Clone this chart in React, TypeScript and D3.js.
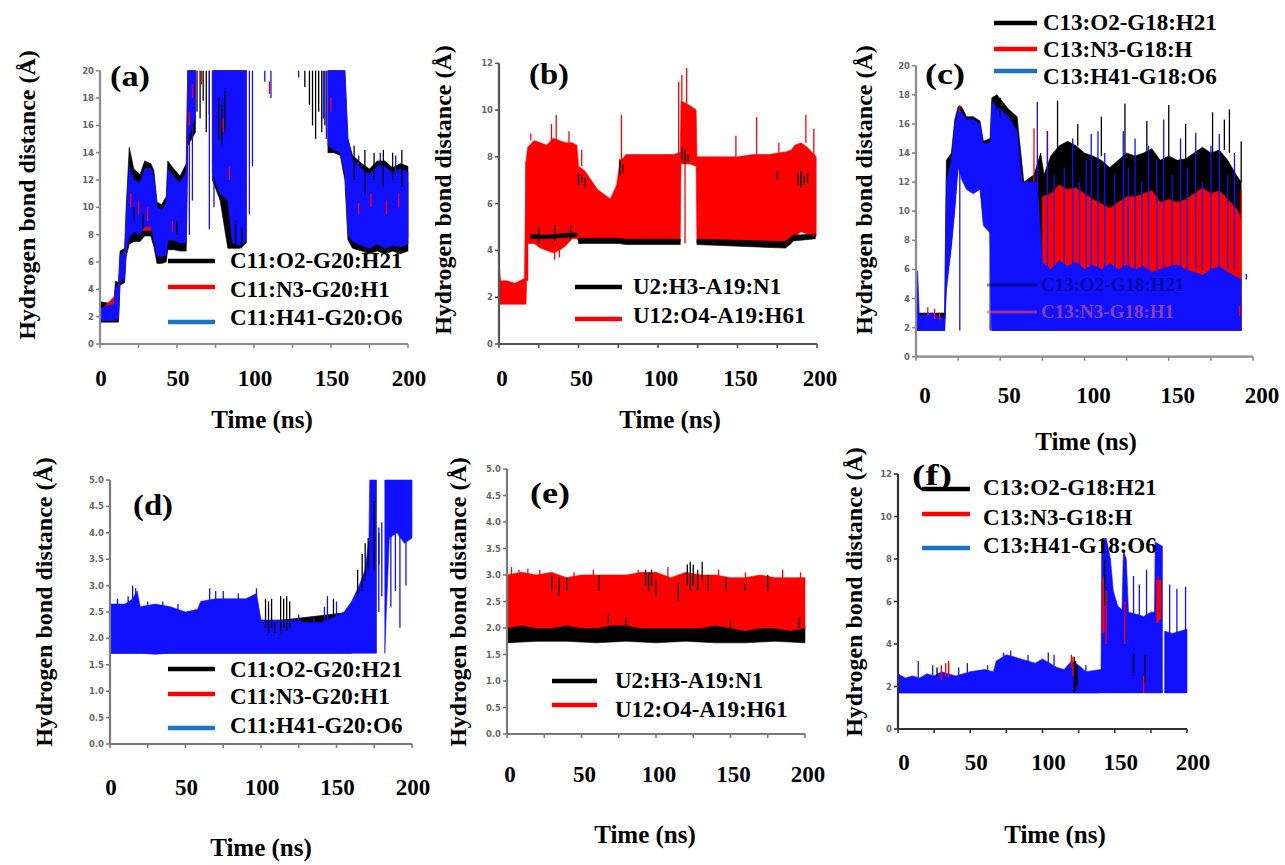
import React from "react";
import * as d3 from "d3";

type Row = [number, number | null, number | null];
type Mark = [number, number, number];

// ---------- tick labels ----------
const X_TICK_LABELS = [0, 50, 100, 150, 200];

// ---------- series names ----------
const C11_NAMES = ["C11:O2-G20:H21", "C11:N3-G20:H1", "C11:H41-G20:O6"];
const U_NAMES = ["U2:H3-A19:N1", "U12:O4-A19:H61"];
const C13_NAMES = ["C13:O2-G18:H21", "C13:N3-G18:H", "C13:H41-G18:O6"];
const C13_GHOST = ["C13:O2-G18:H21", "C13:N3-G18:H1"];

// ---------- panel (a) ----------
const A_BLACK: Row[] = [[0,1.6,3.1],[5,1.6,3.0],[9,1.6,3.0],[10,1.6,4.6],[12,1.6,4.5],[13,4.3,6.8],[16,4.5,7.0],[17,6.4,10.0],[19,7.3,14.4],[22,7.5,12.8],[26,7.5,12.4],[29,7.9,13.4],[33,7.9,13.2],[35,7.1,12.7],[37,5.9,10.4],[40,5.9,10.2],[43,6.0,10.8],[44,6.9,13.4],[48,6.9,12.8],[52,6.8,12.3],[56,6.8,13.2],[57,14.5,20],[62,15.5,20],[62.5,null,null],[73,12.0,20],[78,10.5,20],[83,7.0,20],[86,7.0,20],[91,7.0,20],[95,7.4,20],[96,null,null],[148,14.0,20],[152,14.0,20],[156,13.8,20],[159,12.0,20],[161,7.6,15.0],[164,7.0,13.8],[170,6.8,13.2],[175,6.6,12.8],[180,6.8,13.4],[185,6.6,13.4],[190,6.8,12.9],[195,6.6,13.2],[200,6.8,13.0]];
const A_RED: Row[] = [[0,1.9,2.4],[12,1.9,3.8],[13,5.0,6.1],[16,5.2,6.3],[17,7.0,9.0],[19,8.3,11.5],[35,8.3,11.5],[37,6.8,9.5],[43,6.9,9.8],[44,8.0,11.8],[52,7.9,11.4],[56,7.8,11.5],[57,15.8,20],[62,17.2,20],[62.5,null,null],[73,13.2,20],[78,11.4,20],[83,10.8,20],[86,7.8,20],[95,8.2,20],[96,null,null],[148,15.2,20],[152,14.5,20],[156,14.3,20],[159,13.2,20],[161,8.4,13.5],[164,7.9,12.8],[175,7.6,12.0],[190,7.6,12.0],[200,7.7,11.8]];
const A_BLUE: Row[] = [[0,1.7,2.6],[5,1.7,2.8],[9,1.7,2.9],[10,1.8,4.2],[12,1.8,4.2],[13,4.6,6.5],[16,4.8,6.7],[17,6.8,9.5],[19,7.8,13.0],[22,8.2,12.0],[26,8.0,11.8],[29,8.6,12.8],[33,8.6,12.9],[35,7.6,12.2],[37,6.4,10.0],[40,6.4,9.8],[43,6.5,10.3],[44,7.6,12.8],[48,7.6,12.2],[52,7.4,11.8],[56,7.4,12.6],[57,15.0,20],[62,16.6,20],[62.5,null,null],[73,12.5,20],[78,11.0,20],[83,10.5,20],[86,7.4,20],[91,7.2,20],[95,7.6,20],[96,null,null],[148,14.5,20],[152,14.2,20],[156,14.0,20],[159,12.5,20],[161,8.0,15.0],[164,7.5,13.5],[170,7.2,12.8],[175,7.0,12.4],[180,7.3,13.0],[185,7.0,13.0],[190,7.2,12.5],[195,7.1,12.8],[200,7.3,12.6]];
const A_BLACK_MARKS: Mark[] = [[63,17,20],[65,16.5,20],[67,17.8,20],[69,15.5,20],[71,16.8,20],[77,15,18],[79,14.5,17.5],[81,15.5,18.5],[88,7,9],[92,7,8.5],[133,18.8,20],[136,17.5,20],[138,16,20],[140,15,20],[142,17,20],[144,15.5,20],[146,16,20],[165,12,14.5],[172,11,14.2],[178,12,14],[184,11.5,14.2],[190,12,14],[196,11.5,14.2],[22,9,10],[28,8.5,9.5],[50,8,9]];
const A_RED_MARKS: Mark[] = [[20,10,11],[25,9.5,10.5],[31,9,10],[47,8.2,9],[58,16,17],[60,18,19],[66,19,20],[80,15.5,16.5],[84,12,13],[110,18.3,19.2],[150,17,18],[168,9.5,10.3],[176,10,11],[186,9.5,10.5],[194,10,11]];
const A_BLUE_MARKS: Mark[] = [[58,8.0,15],[60,10.5,16],[71,8.4,20],[74,10,12.5],[97,9.5,20],[99,13,20],[107,19.2,20],[111,18,20],[129,19.5,20],[145,16.5,20],[147,15,20],[168,12,13.8],[182,12,14],[192,12,13.8]];

// ---------- panel (b) ----------
const B_BLACK: Row[] = [[20,4.5,4.68],[30,4.5,4.65],[40,4.55,4.72],[49,4.58,4.75],[49.5,null,null],[50,4.3,4.52],[75,4.3,4.52],[80,4.25,4.48],[114,4.25,4.48],[114.2,null,null],[124.5,4.25,4.48],[180,4.1,4.38],[185,4.4,4.65],[199,4.5,4.7]];
const B_RED: Row[] = [[0,1.7,3.5],[1,1.7,2.7],[5,1.7,2.7],[10,1.7,2.6],[16,1.7,2.8],[17,1.7,7.8],[18,4.3,8.4],[22,4.3,8.7],[26,4.1,8.6],[30,4.0,8.5],[34,3.9,8.8],[38,4.0,8.7],[42,4.2,8.6],[46,4.5,8.6],[49,4.5,8.5],[50,4.4,7.6],[54,4.5,7.4],[58,4.5,7.0],[62,4.4,6.6],[66,4.4,6.4],[70,4.4,6.2],[74,4.4,6.8],[76,4.5,7.8],[80,4.4,8.1],[90,4.4,8.1],[100,4.4,8.1],[110,4.4,8.1],[114,4.4,8.2],[114.5,7.7,10.4],[120,7.7,10.2],[124,7.6,10.0],[124.5,4.3,8.0],[130,4.3,8.0],[140,4.3,8.0],[150,4.3,8.0],[160,4.3,8.1],[170,4.3,8.1],[178,4.3,8.2],[180,4.1,8.2],[184,4.3,8.3],[186,4.6,8.5],[190,4.8,8.6],[194,4.7,8.4],[199.5,4.6,8.0]];
const B_BLACK_MARKS: Mark[] = [[0,1.7,3.5],[50,6.8,7.3],[52,6.9,7.2],[54,6.7,7.1],[76,7.2,7.9],[78,7.3,7.7],[115,7.8,8.4],[117,7.7,8.3],[119,7.8,8.1],[175,7.0,7.4],[188,6.8,7.3],[190,6.7,7.4],[192,6.8,7.2],[194,6.9,7.3],[25,4.3,5.0],[35,4.4,5.1],[45,4.5,5.1]];
const B_RED_MARKS: Mark[] = [[17,2.7,7.8],[18,2.7,8.2],[20,8.7,9.0],[33,8.6,9.4],[36,8.6,9.8],[44,8.6,9.1],[35,3.6,4.0],[38,3.7,4.0],[52,7.6,8.3],[77,7.8,9.8],[113,8.1,11.2],[115,10.4,11.5],[118,10.2,11.8],[117,4.3,7.7],[149,8.0,8.9],[162,8.1,9.7],[176,8.2,8.6],[193,8.6,9.8],[198,4.6,9.2]];

// ---------- panel (c) ----------
const C_BLACK: Row[] = [[0,1.8,3.0],[17,1.8,3.0],[18,5,13.5],[21,7.8,14],[23,10.3,16.3],[25,13.3,17.2],[27,12.5,17.2],[30,11.8,16.5],[34,11.5,16.5],[38,11.8,16.2],[40,9.3,14.8],[44,8.8,15],[45,1.8,17.8],[48,1.8,18],[55,1.8,17],[60,1.8,16.5],[64,1.8,12],[70,1.8,12.5],[74,1.8,14],[76,1.8,12.5],[80,1.8,13.8],[85,1.8,14.5],[90,1.8,14.8],[95,1.8,14.5],[100,1.8,14],[105,1.8,13.8],[110,1.8,13.5],[115,1.8,13.0],[120,1.8,13.5],[125,1.8,14.0],[130,1.8,13.8],[135,1.8,14.0],[140,1.8,14.3],[145,1.8,13.5],[150,1.8,13.8],[155,1.8,13.5],[160,1.8,13.6],[165,1.8,14.0],[170,1.8,14.4],[175,1.8,14.0],[180,1.8,14.2],[185,1.8,13.5],[190,1.8,12.5],[193,1.8,12]];
const C_RED: Row[] = [[75,1.8,11.0],[80,1.8,11.2],[85,1.8,11.8],[90,1.8,11.5],[95,1.8,11.6],[100,1.8,11.2],[105,1.8,10.8],[110,1.8,10.5],[115,1.8,10.2],[120,1.8,10.6],[125,1.8,11.0],[130,1.8,11.0],[135,1.8,11.2],[140,1.8,11.4],[145,1.8,10.6],[150,1.8,10.8],[155,1.8,10.6],[160,1.8,10.8],[165,1.8,11.2],[170,1.8,11.6],[175,1.8,11.2],[180,1.8,11.4],[185,1.8,10.8],[190,1.8,10.2],[193,1.8,9.5]];
const C_BLUE: Row[] = [[0,1.8,2.7],[1,1.8,5.9],[2,1.8,2.8],[10,1.8,3.0],[17,1.8,2.6],[18,4.5,12],[21,7.5,13.5],[23,10,16],[25,13,17],[27,12.2,16.8],[30,11.5,16.3],[34,11.2,16.3],[38,11.5,16],[40,9,14.6],[44,8.5,14.7],[45,1.8,17.5],[50,1.8,17],[55,1.8,16.5],[60,1.8,15.5],[63,1.8,12],[68,1.8,12],[72,1.8,12],[75,1.8,6.5],[80,1.8,6.0],[85,1.8,6.6],[90,1.8,6.2],[95,1.8,6.5],[100,1.8,6.0],[105,1.8,6.3],[110,1.8,6.0],[115,1.8,6.4],[120,1.8,6.0],[125,1.8,6.3],[130,1.8,6.0],[135,1.8,6.2],[140,1.8,5.8],[145,1.8,6.0],[150,1.8,6.2],[155,1.8,6.3],[160,1.8,6.0],[165,1.8,5.8],[170,1.8,5.6],[175,1.8,6.0],[180,1.8,6.2],[185,1.8,5.8],[190,1.8,5.5],[193,1.8,5.3]];
const C_BLACK_MARKS: Mark[] = [[48,17,18],[50,16.5,17.8],[84,13.8,17.6],[96,14.5,16],[110,13.8,16.5],[124,13.5,17.4],[137,14,16.2],[150,13.8,17.3],[160,13.6,16],[176,14,16.8],[183,14.2,16.3],[186,14,17],[193,12,14.8]];
const C_RED_MARKS: Mark[] = [[7,2.8,3.4],[11,2.6,3.3],[14,2.5,3.0],[26,16.8,17.3],[70,12,15.7],[78,11,15.5],[192,2.8,3.5],[193,9.5,11.5]];
const C_BLUE_MARKS: Mark[] = [[26,1.8,15.5],[44,1.8,12],[72,1.8,17.5],[78,6,15.5],[82,6,12.5],[88,6,13],[93,6,15],[97,6,12],[101,6,13.5],[104,6,15.3],[108,6,15.5],[112,6,14],[118,6,12.5],[123,6,15.5],[126,6,13],[130,6,15],[134,6,12],[138,6,14.5],[143,6,13.5],[147,6,16.3],[152,6,12.5],[157,6,15],[161,6,13],[166,6,15.4],[170,6,12],[175,6,14.5],[180,6,15.3],[185,6,12.5],[189,6,14],[196,5.3,5.7]];

// ---------- panel (d) ----------
const D_BLACK: Row[] = [[0,1.72,2.5],[100,1.72,2.3],[160,1.72,2.5]];
const D_RED: Row[] = [[0,1.75,2.2],[160,1.75,2.2]];
const D_BLUE: Row[] = [[0,1.72,2.65],[10,1.72,2.65],[15,1.72,2.75],[18,1.72,2.9],[20,1.72,2.6],[30,1.7,2.65],[40,1.72,2.6],[50,1.72,2.5],[58,1.72,2.55],[60,1.72,2.7],[70,1.72,2.75],[80,1.72,2.75],[90,1.72,2.75],[97,1.72,2.85],[100,1.72,2.35],[110,1.72,2.35],[120,1.72,2.35],[130,1.72,2.3],[140,1.72,2.3],[148,1.72,2.4],[155,1.72,2.5],[160,1.72,2.7],[165,1.72,3.0],[169,1.72,3.3],[171.5,1.72,3.9],[172,1.72,5.0],[176.5,1.72,5.0],[176.8,null,null],[182,1.72,5.0],[183,2.5,5.0],[185,3.9,5.0],[190,4.0,5.0],[195,3.8,5.0],[200,3.9,5.0]];
const D_BLACK_MARKS: Mark[] = [[103,2.2,2.75],[105,2.1,2.7],[107,2.2,2.75],[109,2.1,2.3],[113,2.1,2.8],[115,2.2,2.75],[117,2.15,2.8],[119,2.2,2.7],[148,2.4,2.75],[164,2.8,3.3],[167,2.9,3.6],[169,3.1,3.8],[171,3.3,3.9],[175,3.3,4.6],[178,3.4,4.0]];
const D_RED_MARKS: Mark[] = [];
const D_BLUE_MARKS: Mark[] = [[5,2.6,2.75],[12,2.6,2.8],[15,2.6,3.0],[17,2.6,2.95],[25,2.55,2.7],[35,2.55,2.7],[45,2.5,2.65],[66,2.6,2.95],[70,2.6,2.9],[75,2.7,2.9],[85,2.7,2.85],[97,2.7,2.95],[125,2.3,2.45],[135,2.28,2.4],[142,2.3,2.6],[144,2.3,2.8],[150,2.4,2.7],[178,2.5,4.1],[180,2.8,4.2],[186,2.6,4.0],[189,2.9,4.0],[192,2.2,4.0],[196,3.0,4.0]];

// ---------- panel (e) ----------
const E_BLACK: Row[] = [[0,1.72,2.05],[20,1.75,2.1],[40,1.75,2.05],[60,1.72,2.1],[80,1.75,2.05],[100,1.72,2.05],[120,1.75,2.05],[140,1.72,2.05],[160,1.72,2.0],[180,1.75,2.05],[200,1.72,2.05]];
const E_RED: Row[] = [[0,2.0,3.0],[10,2.05,3.05],[20,2.0,3.0],[30,2.0,3.05],[40,2.05,2.95],[50,2.0,3.0],[60,2.0,3.0],[70,2.05,3.0],[80,2.05,3.0],[90,2.0,3.05],[100,2.0,3.05],[110,2.0,2.95],[120,2.0,3.05],[130,2.0,3.0],[140,2.05,3.0],[150,2.0,2.95],[160,1.95,2.95],[170,2.0,3.0],[180,2.0,2.95],[190,1.95,2.95],[200,2.0,2.95]];
const E_BLACK_MARKS: Mark[] = [[30,2.7,3.0],[35,2.6,2.95],[40,2.7,2.95],[62,2.7,3.0],[93,2.8,3.1],[95,2.7,3.05],[97,2.8,3.1],[100,2.6,2.9],[115,2.5,2.85],[121,2.8,3.2],[123,2.7,3.25],[125,2.8,3.2],[128,2.7,3.1],[131,2.9,3.25],[135,2.7,3.0],[147,2.7,2.95],[160,2.7,2.85],[175,2.7,3.0],[68,2.1,2.25],[80,2.0,2.2],[150,2.0,2.15],[196,2.0,2.2]];
const E_RED_MARKS: Mark[] = [[3,2.9,3.15],[8,2.9,3.1],[14,2.9,3.12],[22,2.9,3.1],[45,2.9,3.05],[58,2.9,3.1],[88,2.9,3.1],[108,2.9,3.15],[142,2.9,3.1],[160,2.85,3.05],[185,2.85,3.1],[197,2.85,3.05]];

// ---------- panel (f) ----------
const F_BLACK: Row[] = [[0,1.7,2.2],[139,1.7,2.2]];
const F_RED: Row[] = [[141.5,4.5,7.0],[142.8,4.6,7.2],[143,null,null],[179,5.0,7.0],[182,5.2,7.0]];
const F_BLUE: Row[] = [[0,1.7,2.6],[5,1.7,2.4],[10,1.7,2.5],[15,1.7,2.4],[20,1.7,2.6],[25,1.7,2.5],[30,1.7,2.7],[40,1.7,2.5],[50,1.7,2.7],[60,1.7,2.8],[66,1.7,2.7],[68,1.7,3.2],[75,1.7,3.5],[85,1.7,3.3],[95,1.7,3.1],[100,1.7,3.3],[110,1.7,2.9],[115,1.7,2.8],[120,1.7,3.2],[125,1.7,3.0],[130,1.7,2.7],[140.5,1.7,2.8],[141,1.7,8.8],[144,1.7,9.0],[147,1.7,8.0],[149,1.7,6.5],[152,1.7,5.8],[155,1.7,5.6],[156,1.7,8.4],[158,1.7,8.0],[159.5,1.7,5.5],[165,1.7,5.4],[170,1.7,5.3],[175,1.7,5.5],[177.5,1.7,5.5],[178,1.7,8.8],[183,1.7,8.6],[183.5,null,null],[184.5,1.7,4.6],[190,1.7,4.5],[195,1.7,4.6],[200,1.7,4.7]];
const F_BLACK_MARKS: Mark[] = [[27,2.5,2.9],[35,2.6,3.1],[122,1.7,3.4],[123,1.8,3.2],[124,2.0,3.0],[143,5.8,8.0],[163,2.5,3.5],[171,2.2,3.5]];
const F_RED_MARKS: Mark[] = [[30,2.3,3.0],[33,2.5,3.1],[35,2.4,3.2],[120,2.9,3.5],[121,2.5,3.4],[144,4.0,6.5],[157,4.0,6.0],[170,1.7,2.5],[180,5.0,7.2]];
const F_BLUE_MARKS: Mark[] = [[14,2.4,3.2],[24,2.4,3.0],[42,2.5,2.9],[48,2.5,3.1],[62,2.6,3.0],[73,3.2,3.6],[78,3.3,3.7],[90,3.1,3.5],[104,3.0,3.6],[108,3.0,3.5],[130,2.6,3.0],[163,5.3,7.2],[167,5.3,6.8],[172,5.3,7.5],[188,4.5,6.8],[193,4.5,6.6],[199,4.6,6.7]];

// ---------- styling ----------
const SERIF = "'Liberation Serif','Times New Roman',serif";
const DATA_BLACK = "#000000";
const DATA_RED = "#ff0000";
const DATA_BLUE = "#1010ff";
const LEG_BLUE = "#1b72c4";

type Series = { name: string; color: string; legend: string; band: Row[]; marks: Mark[] };
type Panel = {
  tag: string;
  x0: number; x1: number; yb: number; yt: number; ymax: number; ystep: number; yfmt: (v: number) => string;
  axisColor: string;
  series: Series[];
  bandOrder: number[];
  ylab: [number, number];
  tag_xy: [number, number];
  legLine: [number, number]; legTextX: number; legY: number[]; legBase: number[];
  tickDx: number; tickY: number; titleXY: [number, number];
};

const mk = (name: string, color: string, legend: string, band: Row[], marks: Mark[]): Series => ({ name, color, legend, band, marks });

const PANELS: Panel[] = [
  {
    tag: "(a)", x0: 100, x1: 408, yb: 344, yt: 70.7, ymax: 20, ystep: 2, yfmt: (v) => String(v), axisColor: "#8a8a8a",
    series: [mk(C11_NAMES[0], DATA_BLACK, "#000", A_BLACK, A_BLACK_MARKS), mk(C11_NAMES[1], DATA_RED, DATA_RED, A_RED, A_RED_MARKS), mk(C11_NAMES[2], DATA_BLUE, LEG_BLUE, A_BLUE, A_BLUE_MARKS)],
    bandOrder: [0, 1, 2], ylab: [27, 195], tag_xy: [110, 86],
    legLine: [168, 215], legTextX: 230, legY: [261, 287, 322], legBase: [268, 297, 325],
    tickDx: 1, tickY: 386, titleXY: [262, 428],
  },
  {
    tag: "(b)", x0: 499, x1: 817, yb: 344, yt: 63.3, ymax: 12, ystep: 2, yfmt: (v) => String(v), axisColor: "#555",
    series: [mk(U_NAMES[0], DATA_BLACK, "#000", B_BLACK, B_BLACK_MARKS), mk(U_NAMES[1], DATA_RED, DATA_RED, B_RED, B_RED_MARKS)],
    bandOrder: [1, 0], ylab: [443, 190], tag_xy: [529, 84],
    legLine: [575, 622], legTextX: 633, legY: [287, 319], legBase: [294, 323],
    tickDx: 3, tickY: 386, titleXY: [670, 428],
  },
  {
    tag: "(c)", x0: 916, x1: 1253, yb: 356.7, yt: 65.7, ymax: 20, ystep: 2, yfmt: (v) => String(v), axisColor: "#8a8a8a",
    series: [mk(C13_NAMES[0], DATA_BLACK, "#000", C_BLACK, C_BLACK_MARKS), mk(C13_NAMES[1], DATA_RED, DATA_RED, C_RED, C_RED_MARKS), mk(C13_NAMES[2], DATA_BLUE, LEG_BLUE, C_BLUE, C_BLUE_MARKS)],
    bandOrder: [0, 1, 2], ylab: [864, 190], tag_xy: [925, 84],
    legLine: [994, 1037], legTextX: 1043, legY: [23, 49, 71], legBase: [30, 57, 84],
    tickDx: 9, tickY: 403, titleXY: [1086, 450],
  },
  {
    tag: "(d)", x0: 110, x1: 412, yb: 744, yt: 480, ymax: 5, ystep: 0.5, yfmt: (v) => v.toFixed(1), axisColor: "#7a7a7a",
    series: [mk(C11_NAMES[0], DATA_BLACK, "#000", D_BLACK, D_BLACK_MARKS), mk(C11_NAMES[1], DATA_RED, DATA_RED, D_RED, D_RED_MARKS), mk(C11_NAMES[2], DATA_BLUE, LEG_BLUE, D_BLUE, D_BLUE_MARKS)],
    bandOrder: [0, 1, 2], ylab: [44, 602], tag_xy: [133, 515],
    legLine: [168, 215], legTextX: 230, legY: [669, 694, 728], legBase: [677, 704, 733],
    tickDx: 1, tickY: 795, titleXY: [261, 856],
  },
  {
    tag: "(e)", x0: 507, x1: 805, yb: 734, yt: 469, ymax: 5, ystep: 0.5, yfmt: (v) => v.toFixed(1), axisColor: "#7a7a7a",
    series: [mk(U_NAMES[0], DATA_BLACK, "#000", E_BLACK, E_BLACK_MARKS), mk(U_NAMES[1], DATA_RED, DATA_RED, E_RED, E_RED_MARKS)],
    bandOrder: [0, 1], ylab: [458, 602], tag_xy: [530, 503],
    legLine: [552, 597], legTextX: 615, legY: [681, 705], legBase: [688, 717],
    tickDx: 3, tickY: 782, titleXY: [645, 843],
  },
  {
    tag: "(f)", x0: 898, x1: 1187, yb: 729, yt: 474, ymax: 12, ystep: 2, yfmt: (v) => String(v), axisColor: "#333",
    series: [mk(C13_NAMES[0], DATA_BLACK, "#000", F_BLACK, F_BLACK_MARKS), mk(C13_NAMES[1], DATA_RED, DATA_RED, F_RED, F_RED_MARKS), mk(C13_NAMES[2], DATA_BLUE, LEG_BLUE, F_BLUE, F_BLUE_MARKS)],
    bandOrder: [0, 2, 1], ylab: [854, 592], tag_xy: [912, 485],
    legLine: [922, 970], legTextX: 983, legY: [489, 514, 548], legBase: [495, 525, 553],
    tickDx: 6, tickY: 770, titleXY: [1055, 843],
  },
];

function PanelView({ p }: { p: Panel }) {
  const x = d3.scaleLinear().domain([0, 200]).range([p.x0, p.x1]);
  const y = d3.scaleLinear().domain([0, p.ymax]).range([p.yb, p.yt]).clamp(true);
  const area = d3
    .area<Row>()
    .defined((d) => d[1] != null && d[2] != null)
    .x((d) => x(d[0]))
    .y0((d) => y(d[1] as number))
    .y1((d) => y(d[2] as number));
  const yTicks = d3.range(0, p.ymax + 1e-9, p.ystep);
  const xMinor = d3.range(0, 200.001, 25);

  return (
    <g>
      <text
        transform={`translate(${p.ylab[0]},${p.ylab[1]}) rotate(-90)`}
        textAnchor="middle"
        dominantBaseline="central"
        fontFamily={SERIF}
        fontWeight="bold"
        fontSize={24}
        fill="#000"
      >
        Hydrogen bond distance (Å)
      </text>

      {p.bandOrder.map((i) => (
        <path key={"b" + i} d={area(p.series[i].band) || ""} fill={p.series[i].color} stroke={p.series[i].color} strokeWidth={0.6} />
      ))}
      {p.bandOrder.map((i) =>
        p.series[i].marks.map((m, k) => (
          <line key={"m" + i + "-" + k} x1={x(m[0])} x2={x(m[0])} y1={y(m[1])} y2={y(m[2])} stroke={p.series[i].color} strokeWidth={1.3} />
        ))
      )}

      <line x1={p.x0} x2={p.x1} y1={p.yb} y2={p.yb} stroke={p.axisColor} strokeWidth={2.2} />
      <line x1={p.x0} x2={p.x0} y1={p.yb} y2={p.yt} stroke={p.axisColor} strokeWidth={2.2} />
      {xMinor.map((t) => (
        <line key={"xt" + t} x1={x(t)} x2={x(t)} y1={p.yb} y2={p.yb + 4} stroke={p.axisColor} strokeWidth={1.6} />
      ))}
      {yTicks.map((v) => (
        <g key={"yt" + v}>
          <line x1={p.x0 - 4} x2={p.x0} y1={y(v)} y2={y(v)} stroke={p.axisColor} strokeWidth={1.6} />
          <text x={p.x0 - 6} y={y(v)} textAnchor="end" dominantBaseline="central" fontFamily="'DejaVu Sans',sans-serif" fontWeight="bold" fontSize={8.5} fill="#666">
            {p.yfmt(v)}
          </text>
        </g>
      ))}

      {X_TICK_LABELS.map((t) => (
        <text key={"xl" + t} x={x(t) + p.tickDx} y={p.tickY} textAnchor="middle" fontFamily={SERIF} fontWeight="bold" fontSize={23} fill="#000">
          {t}
        </text>
      ))}
      <text x={p.titleXY[0]} y={p.titleXY[1]} textAnchor="middle" fontFamily={SERIF} fontWeight="bold" fontSize={25} fill="#000">
        Time (ns)
      </text>

      <text x={p.tag_xy[0]} y={p.tag_xy[1]} fontFamily={SERIF} fontWeight="bold" fontSize={29} textLength={40} lengthAdjust="spacingAndGlyphs" fill="#000">
        {p.tag}
      </text>

      {p.series.map((s, i) => (
        <g key={"lg" + i}>
          <line x1={p.legLine[0]} x2={p.legLine[1]} y1={p.legY[i]} y2={p.legY[i]} stroke={s.legend} strokeWidth={4.5} />
          <text x={p.legTextX} y={p.legBase[i]} fontFamily={SERIF} fontWeight="bold" fontSize={23} fill="#000">
            {s.name}
          </text>
        </g>
      ))}
    </g>
  );
}

function GhostLegend() {
  return (
    <g>
      <line x1={987} x2={1037} y1={285} y2={285} stroke="#000" strokeOpacity={0.45} strokeWidth={3} />
      <text x={1041} y={291} fontFamily={SERIF} fontWeight="bold" fontSize={19} fill="#000" fillOpacity={0.4}>
        {C13_GHOST[0]}
      </text>
      <line x1={987} x2={1037} y1={312} y2={312} stroke="#ff4040" strokeOpacity={0.55} strokeWidth={3} />
      <text x={1041} y={318} fontFamily={SERIF} fontWeight="bold" fontSize={19} fill="#ff7070" fillOpacity={0.5}>
        {C13_GHOST[1]}
      </text>
    </g>
  );
}

export default function App() {
  return (
    <svg width={1285} height={865} viewBox="0 0 1285 865" style={{ position: "absolute", left: 0, top: 0, background: "#fff" }}>
      <rect x={0} y={0} width={1285} height={865} fill="#fff" />
      {PANELS.map((p) => (
        <PanelView key={p.tag} p={p} />
      ))}
      <GhostLegend />
    </svg>
  );
}
